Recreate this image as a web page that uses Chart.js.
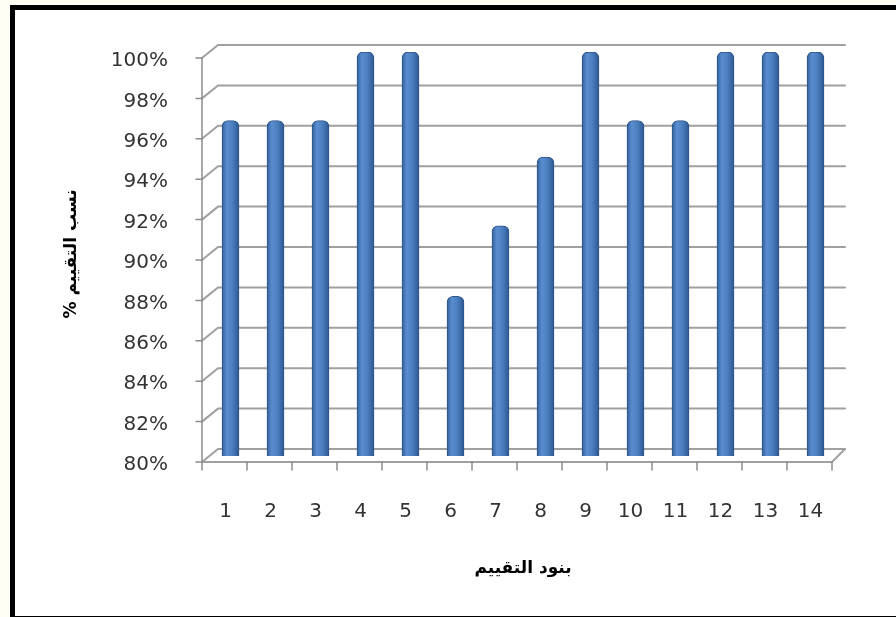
<!DOCTYPE html>
<html>
<head>
<meta charset="utf-8">
<script src="https://cdn.jsdelivr.net/npm/chart.js@4/dist/chart.umd.min.js"></script>
<style>
    html, body { margin: 0; padding: 0; }
    body { width: 896px; height: 617px; overflow: hidden; background: #fffdf4; position: relative; }
    #frame {
        position: absolute; left: 10px; top: 5px;
        width: 900px; height: 606px;
        border: 5px solid #000; border-right: none;
        background: #fff;
    }
    #wrap { position: absolute; left: 0; top: 0; width: 896px; height: 617px; }
</style>
</head>
<body>
<div id="frame"></div>
<div id="wrap"><canvas id="chart" width="896" height="617"></canvas></div>
<script>
// بيانات الرسم
const categories = ["1", "2", "3", "4", "5", "6", "7", "8", "9", "10", "11", "12", "13", "14"];
const percentages = [96.6, 96.6, 96.6, 100, 100, 87.9, 91.4, 94.8, 100, 96.6, 96.6, 100, 100, 100];
const yMin = 80;
const yMax = 100;
const yStep = 2;

const xTitle = "بنود التقييم";
const yTitle = "% نسب التقييم";

const GRID = "#a0a0a0";
const AXIS = "#8c8c8c";
const TEXT = "#333333";

// إزاحات المنظور الثلاثي الأبعاد (الواجهة والجدار الخلفي)
const FX = -6, FY = 6, BX = 10, BY = -7;

// الشبكة والأرضية والمحور الأمامي
const grid3d = {
    id: "grid3d",
    beforeDatasetsDraw(chart) {
        const { ctx, chartArea: a, scales: { x, y } } = chart;
        const y0 = y.getPixelForValue(yMin);

        ctx.save();
        ctx.lineCap = "round";

        // خطوط الشبكة على الجدار الخلفي مع الوصلة المائلة
        ctx.strokeStyle = GRID;
        ctx.lineWidth = 2;
        y.ticks.forEach(t => {
            const py = y.getPixelForValue(t.value);
            ctx.beginPath();
            ctx.moveTo(a.left + FX, py + FY);
            ctx.lineTo(a.left + BX, py + BY);
            ctx.lineTo(a.right + BX - 3, py + BY);
            ctx.stroke();
        });

        // الأرضية
        ctx.beginPath();
        ctx.moveTo(a.left + FX, y0 + FY);
        ctx.lineTo(a.right + FX, y0 + FY);
        ctx.lineTo(a.right + BX - 3, y0 + BY);
        ctx.stroke();

        // المحور العمودي الأمامي وعلاماته
        ctx.strokeStyle = AXIS;
        ctx.lineWidth = 1.5;
        ctx.beginPath();
        ctx.moveTo(a.left + FX, y.getPixelForValue(yMax) + FY);
        ctx.lineTo(a.left + FX, y0 + FY);
        ctx.stroke();

        y.ticks.forEach(t => {
            const py = y.getPixelForValue(t.value) + FY;
            ctx.beginPath();
            ctx.moveTo(a.left + FX - 6, py);
            ctx.lineTo(a.left + FX, py);
            ctx.stroke();
        });

        // علامات المحور الأفقي بين الفئات
        const step = (a.right - a.left) / categories.length;
        for (let k = 0; k <= categories.length; k++) {
            const px = a.left + FX + k * step;
            ctx.beginPath();
            ctx.moveTo(px, y0 + FY);
            ctx.lineTo(px, y0 + FY + 8);
            ctx.stroke();
        }

        ctx.restore();
    }
};

// تدرج أسطواني للأعمدة
function barFill(c) {
    const chart = c.chart;
    if (!chart.chartArea || c.type !== "data") return "#4a7ebb";
    const px = chart.scales.x.getPixelForValue(c.dataIndex);
    const g = chart.ctx.createLinearGradient(px - 9, 0, px + 9, 0);
    g.addColorStop(0, "#2f5c96");
    g.addColorStop(0.3, "#5a8dd0");
    g.addColorStop(0.6, "#4c7fc0");
    g.addColorStop(1, "#2b5590");
    return g;
}

new Chart(document.getElementById("chart"), {
    type: "bar",
    data: {
        labels: categories,
        datasets: [{
            data: percentages,
            backgroundColor: barFill,
            borderColor: "#2d5487",
            borderWidth: 1,
            borderSkipped: "bottom",
            borderRadius: { topLeft: 6, topRight: 6, bottomLeft: 0, bottomRight: 0 },
            barThickness: 17
        }]
    },
    options: {
        responsive: false,
        animation: false,
        layout: { padding: { top: 51, right: 58, left: 0, bottom: 0 } },
        plugins: {
            legend: { display: false },
            tooltip: { enabled: false }
        },
        scales: {
            x: {
                grid: { display: false, drawTicks: false },
                border: { display: false },
                ticks: {
                    color: TEXT,
                    font: { family: "DejaVu Sans", size: 20 },
                    padding: 44,
                    labelOffset: -5,
                    maxRotation: 0
                },
                title: {
                    display: true,
                    text: xTitle,
                    color: "#000",
                    font: { family: "DejaVu Sans", size: 17, weight: "bold" },
                    padding: { top: 0, bottom: 38 }
                },
                afterFit: s => { s.height = 617 - 456; }
            },
            y: {
                min: yMin,
                max: yMax,
                grid: { display: false, drawTicks: false },
                border: { display: false },
                ticks: {
                    stepSize: yStep,
                    color: TEXT,
                    font: { family: "DejaVu Sans", size: 20 },
                    padding: 40,
                    labelOffset: 9,
                    callback: v => v + "%"
                },
                title: {
                    display: true,
                    text: yTitle,
                    color: "#000",
                    font: { family: "DejaVu Sans", size: 17, weight: "bold" },
                    padding: { top: 61, bottom: 0 }
                },
                afterFit: s => { s.width = 208; }
            }
        }
    },
    plugins: [grid3d]
});
</script>
</body>
</html>
